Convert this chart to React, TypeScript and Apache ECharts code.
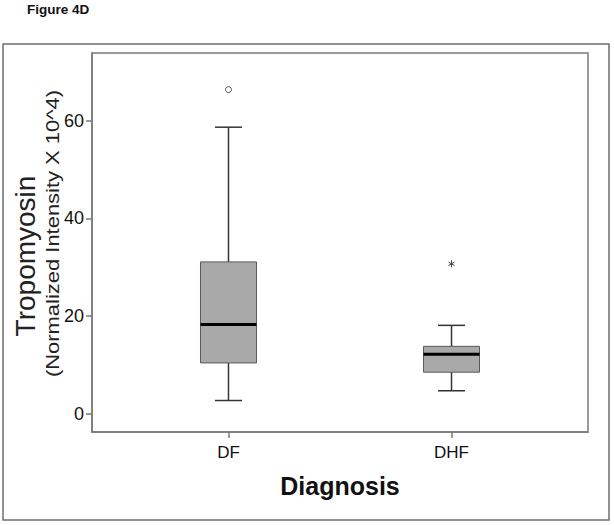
import React, { useEffect, useRef } from 'react';
import * as echarts from 'echarts';

const categories = ['DF', 'DHF'];
const whiskerLow = [2.7, 4.7];
const quartile1 = [10.4, 8.5];
const medians = [18.3, 12.2];
const quartile3 = [31.1, 13.8];
const whiskerHigh = [58.7, 18.1];
const outlierCategory = [0, 1];
const outlierValue = [66.4, 30.7];
const outlierKind = ['circle', 'star'];
const yTicks = [0, 20, 40, 60];

const FONT = "Arial, 'Liberation Sans', sans-serif";

export default function App() {
  const ref = useRef<HTMLDivElement>(null);

  useEffect(() => {
    const chart = echarts.init(ref.current as HTMLDivElement, null, { renderer: 'svg' });
    const boxData = categories.map((_, i) => [i + 1, whiskerLow[i], quartile1[i], medians[i], quartile3[i], whiskerHigh[i]]);
    const outData = outlierCategory.map((c, i) => [c + 1, outlierValue[i], i]);
    const xTickValues = categories.map((_, i) => i + 1);
    const axisGray = '#7a7a7a';

    const option: any = {
      animation: false,
      backgroundColor: '#ffffff',
      grid: {
        left: 92, top: 53, right: 26, bottom: 93,
        show: true, borderColor: axisGray, borderWidth: 1.5, backgroundColor: 'transparent',
      },
      xAxis: {
        type: 'value', min: 0.388, max: 2.612,
        axisLine: { show: true, onZero: false, lineStyle: { color: axisGray, width: 1.5 } },
        splitLine: { show: false },
        axisTick: { show: true, inside: false, customValues: xTickValues, length: 6, lineStyle: { color: axisGray, width: 1.5 } },
        axisLabel: {
          customValues: xTickValues,
          formatter: (v: number) => categories[Math.round(v) - 1] ?? '',
          fontSize: 17, color: '#111', fontFamily: FONT, margin: 12,
        },
        name: 'Diagnosis', nameLocation: 'middle', nameGap: 41,
        nameTextStyle: { fontSize: 25, fontWeight: 'bold', color: '#111', fontFamily: FONT },
      },
      yAxis: {
        type: 'value', min: -3.75, max: 73.9,
        axisLine: { show: true, onZero: false, lineStyle: { color: axisGray, width: 1.5 } },
        splitLine: { show: false },
        axisTick: { show: true, inside: false, customValues: yTicks, length: 6, lineStyle: { color: axisGray, width: 1.5 } },
        axisLabel: { customValues: yTicks, fontSize: 18, color: '#111', fontFamily: FONT, margin: 8 },
      },
      graphic: [
        { type: 'rect', shape: { x: 3, y: 44, width: 606, height: 476 }, style: { fill: 'none', stroke: '#6e6e6e', lineWidth: 1.5 }, silent: true },
        { type: 'text', x: 27, y: 9, style: { text: 'Figure 4D', font: `bold 13.5px ${FONT}`, fill: '#111', textAlign: 'left', textVerticalAlign: 'middle' } },
        { type: 'text', x: 25.5, y: 256, rotation: Math.PI / 2, style: { text: 'Tropomyosin', font: `28px ${FONT}`, fill: '#222', textAlign: 'center', textVerticalAlign: 'middle' } },
        { type: 'text', x: 53, y: 233.5, rotation: Math.PI / 2, scaleX: 1.22, style: { text: '(Normalized Intensity X 10^4)', font: `18px ${FONT}`, fill: '#222', textAlign: 'center', textVerticalAlign: 'middle' } },
      ],
      series: [
        {
          type: 'custom',
          name: 'box',
          data: boxData,
          encode: { x: 0, y: [1, 2, 3, 4, 5] },
          renderItem: (_params: any, api: any) => {
            const x = api.value(0);
            const pLow = api.coord([x, api.value(1)]);
            const pQ1 = api.coord([x, api.value(2)]);
            const pMed = api.coord([x, api.value(3)]);
            const pQ3 = api.coord([x, api.value(4)]);
            const pHigh = api.coord([x, api.value(5)]);
            const cx = pLow[0];
            const half = 28;
            const cap = 13.5;
            const ws = { stroke: '#333', lineWidth: 1.5 };
            return {
              type: 'group',
              children: [
                { type: 'line', shape: { x1: cx, y1: pLow[1], x2: cx, y2: pQ1[1] }, style: ws },
                { type: 'line', shape: { x1: cx, y1: pQ3[1], x2: cx, y2: pHigh[1] }, style: ws },
                { type: 'line', shape: { x1: cx - cap, y1: pLow[1], x2: cx + cap, y2: pLow[1] }, style: ws },
                { type: 'line', shape: { x1: cx - cap, y1: pHigh[1], x2: cx + cap, y2: pHigh[1] }, style: ws },
                { type: 'rect', shape: { x: cx - half, y: pQ3[1], width: half * 2, height: pQ1[1] - pQ3[1] }, style: { fill: '#a9a9a9', stroke: '#5a5a5a', lineWidth: 1 } },
                { type: 'line', shape: { x1: cx - half, y1: pMed[1], x2: cx + half, y2: pMed[1] }, style: { stroke: '#000', lineWidth: 3 } },
              ],
            };
          },
        },
        {
          type: 'custom',
          name: 'outliers',
          data: outData,
          encode: { x: 0, y: 1 },
          renderItem: (_params: any, api: any) => {
            const p = api.coord([api.value(0), api.value(1)]);
            const kind = outlierKind[api.value(2)];
            if (kind === 'circle') {
              return { type: 'circle', shape: { cx: p[0], cy: p[1], r: 3 }, style: { fill: '#fff', stroke: '#555', lineWidth: 1 } };
            }
            const r = 3.5;
            const angles = [Math.PI / 2, Math.PI / 6, (5 * Math.PI) / 6];
            return {
              type: 'group',
              children: angles.map((a) => ({
                type: 'line',
                shape: { x1: p[0] - r * Math.cos(a), y1: p[1] - r * Math.sin(a), x2: p[0] + r * Math.cos(a), y2: p[1] + r * Math.sin(a) },
                style: { stroke: '#444', lineWidth: 1 },
              })),
            };
          },
        },
      ],
    };
    chart.setOption(option);
    return () => chart.dispose();
  }, []);

  return <div ref={ref} style={{ position: 'absolute', left: 0, top: 0, width: 614, height: 525, background: '#fff' }} />;
}
